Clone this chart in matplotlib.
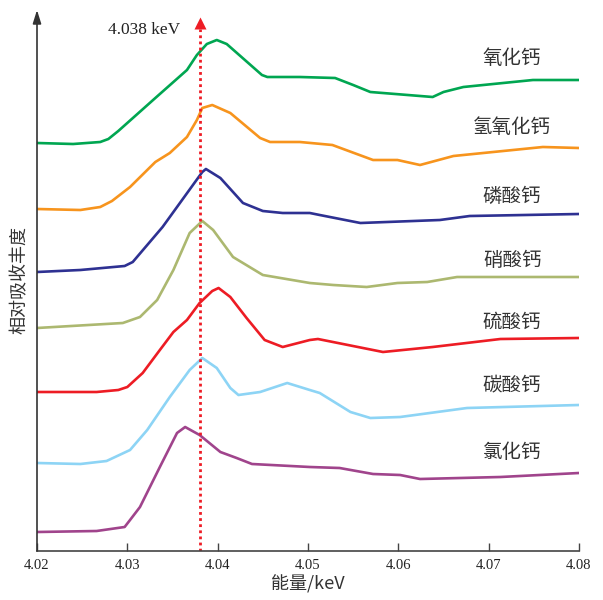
import matplotlib
matplotlib.use('Agg')
import matplotlib.pyplot as plt

plt.rcParams['font.family'] = ['Noto Sans CJK SC', 'DejaVu Sans']

# energy (keV) and stacked relative absorption for each calcium compound
x_cao = [4.0200, 4.0240, 4.0270, 4.0279, 4.0290, 4.0331, 4.0366, 4.0377, 4.0388, 4.0399, 4.0410,
         4.0449, 4.0455, 4.0491, 4.0530, 4.0550, 4.0569, 4.0638, 4.0650, 4.0672, 4.0749, 4.0800]
y_cao = [4.08, 4.07, 4.09, 4.12, 4.20, 4.53, 4.81, 4.96, 5.07, 5.11, 5.07,
         4.76, 4.74, 4.74, 4.73, 4.66, 4.59, 4.54, 4.59, 4.64, 4.71, 4.71]

x_caoh = [4.0200, 4.0248, 4.0270, 4.0283, 4.0303, 4.0331, 4.0347, 4.0366, 4.0377, 4.0383, 4.0394,
          4.0414, 4.0447, 4.0458, 4.0491, 4.0527, 4.0572, 4.0599, 4.0624, 4.0661, 4.0760, 4.0800]
y_caoh = [3.42, 3.41, 3.44, 3.50, 3.64, 3.89, 3.98, 4.14, 4.31, 4.43, 4.46,
          4.38, 4.13, 4.09, 4.09, 4.06, 3.91, 3.91, 3.86, 3.95, 4.04, 4.03]

x_cap = [4.0200, 4.0248, 4.0297, 4.0306, 4.0339, 4.0383, 4.0387, 4.0403, 4.0428, 4.0450, 4.0472,
         4.0502, 4.0513, 4.0558, 4.0646, 4.0679, 4.0800]
y_cap = [2.79, 2.81, 2.85, 2.89, 3.24, 3.79, 3.82, 3.73, 3.48, 3.40, 3.38,
         3.38, 3.36, 3.28, 3.31, 3.35, 3.37]

x_can = [4.0200, 4.0295, 4.0314, 4.0333, 4.0351, 4.0369, 4.0383, 4.0395, 4.0417, 4.0450,
         4.0502, 4.0528, 4.0565, 4.0599, 4.0632, 4.0665, 4.0800]
y_can = [2.23, 2.28, 2.34, 2.51, 2.81, 3.18, 3.30, 3.21, 2.94, 2.76,
         2.68, 2.66, 2.64, 2.68, 2.69, 2.74, 2.74]

x_cas = [4.0200, 4.0266, 4.0290, 4.0300, 4.0317, 4.0336, 4.0351, 4.0366, 4.0380, 4.0394, 4.0401,
         4.0414, 4.0432, 4.0452, 4.0472, 4.0502, 4.0511, 4.0583, 4.0638, 4.0713, 4.0800]
y_cas = [1.59, 1.59, 1.61, 1.64, 1.78, 2.01, 2.19, 2.31, 2.48, 2.60, 2.63,
         2.54, 2.33, 2.11, 2.04, 2.11, 2.12, 1.99, 2.04, 2.12, 2.13]

x_cac = [4.0200, 4.0248, 4.0277, 4.0303, 4.0322, 4.0347, 4.0369, 4.0383, 4.0399, 4.0414,
         4.0423, 4.0447, 4.0477, 4.0502, 4.0513, 4.0547, 4.0569, 4.0602, 4.0676, 4.0800]
y_cac = [0.88, 0.87, 0.90, 1.01, 1.21, 1.54, 1.81, 1.93, 1.83, 1.63,
         1.56, 1.59, 1.68, 1.61, 1.58, 1.39, 1.33, 1.34, 1.43, 1.46]

x_cacl = [4.0200, 4.0266, 4.0297, 4.0303, 4.0314, 4.0336, 4.0355, 4.0364, 4.0380, 4.0403, 4.0421,
          4.0438, 4.0502, 4.0535, 4.0572, 4.0602, 4.0624, 4.0713, 4.0800]
y_cacl = [0.19, 0.20, 0.24, 0.31, 0.44, 0.84, 1.18, 1.24, 1.16, 0.99, 0.93,
          0.87, 0.84, 0.83, 0.77, 0.76, 0.72, 0.74, 0.78]

names = ['氧化钙', '氢氧化钙', '磷酸钙', '硝酸钙', '硫酸钙', '碳酸钙', '氯化钙']
label_y = [4.93, 4.23, 3.55, 2.91, 2.29, 1.66, 0.98]
colors = ['#00a651', '#f7941d', '#2e3192', '#acb870', '#ed1c24', '#8dd4f5', '#a0448c']
xs = [x_cao, x_caoh, x_cap, x_can, x_cas, x_cac, x_cacl]
ys = [y_cao, y_caoh, y_cap, y_can, y_cas, y_cac, y_cacl]

edge = 4.038
xticks = [4.02, 4.03, 4.04, 4.05, 4.06, 4.07, 4.08]

fig = plt.figure(figsize=(6.03, 6.0), dpi=100)
ax = fig.add_axes([37/603, 49/600, 542/603, 541/600])

for i in range(len(names)):
    ax.plot(xs[i], ys[i], color=colors[i], lw=1.9, solid_joinstyle='round',
            solid_capstyle='round')
    ax.text(4.0726, label_y[i], names[i], ha='center', va='center',
            fontsize=14, color='#333333')

# absorption edge marker
ax.plot([edge, edge], [0, 5.22], color='#ee1c25', lw=2, ls=(0, (1, 1.2)))
ax.plot([edge], [5.28], marker='^', color='#ee1c25', ms=9, mec='none')
ax.text(4.0358, 5.21, '4.038 keV', ha='right', va='center', fontsize=12.5,
        family='Liberation Serif', color='#222222')

ax.set_xlim(4.02, 4.08)
ax.set_ylim(0, 5.41)
ax.set_xticks(xticks)
ax.set_xticklabels(['%.2f' % t for t in xticks], family='Liberation Serif', fontsize=10.5)
ax.set_yticks([])
ax.tick_params(axis='x', direction='in', length=6, width=1, color='#444444',
               labelcolor='#222222', pad=6)
for s in ['top', 'right', 'left']:
    ax.spines[s].set_visible(False)
ax.spines['bottom'].set_color('#444444')
ax.spines['bottom'].set_linewidth(1.2)
ax.annotate('', xy=(0, 1.0), xytext=(0, 0), xycoords='axes fraction',
            arrowprops=dict(arrowstyle='-|>,head_length=0.8,head_width=0.25',
                            color='#333333', lw=1.2, shrinkA=0, shrinkB=0))

ax.set_xlabel('能量/keV', fontsize=13, color='#333333', labelpad=2)
ax.set_ylabel('相对吸收丰度', fontsize=13, color='#333333', labelpad=6)

fig.savefig('out.png', dpi=100)
